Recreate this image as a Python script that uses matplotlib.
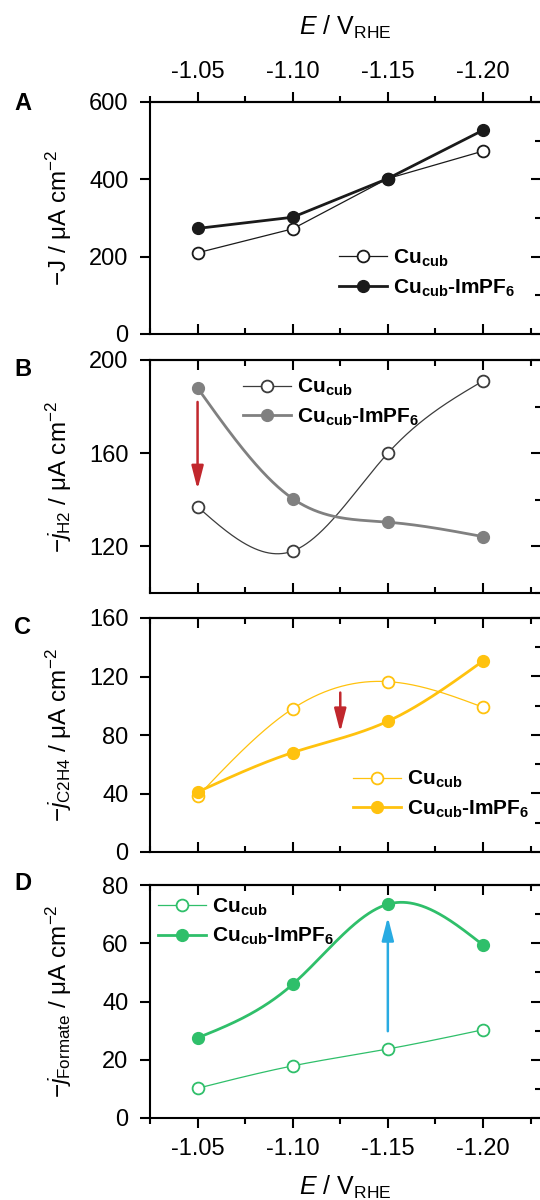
import numpy as np
import matplotlib
matplotlib.use('Agg')
import matplotlib.pyplot as plt
from matplotlib.ticker import FixedLocator, FormatStrFormatter, MultipleLocator

plt.rcParams['font.family'] = ['Liberation Sans', 'DejaVu Sans']
plt.rcParams['mathtext.fontset'] = 'custom'
plt.rcParams['mathtext.rm'] = 'Liberation Sans'
plt.rcParams['mathtext.it'] = 'Liberation Sans:italic'
plt.rcParams['mathtext.bf'] = 'Liberation Sans:bold'
plt.rcParams['axes.unicode_minus'] = False

# potentials (V vs RHE)
potential = [-1.05, -1.10, -1.15, -1.20]

# total current density
total_cub = [210, 272, 402, 473]
total_im = [273, 302, 402, 527]
# H2 partial current density
h2_cub = [137, 118, 160, 191]
h2_im = [188, 140.5, 130.4, 124.2]
# C2H4 partial current density
c2h4_cub = [38, 98, 116.5, 99]
c2h4_im = [41, 68, 89.4, 130.6]
# formate partial current density
formate_cub = [10.2, 17.9, 23.7, 30.3]
formate_im = [27.5, 45.9, 73.4, 59.4]

labels = [r'Cu$_{\mathbf{cub}}$', r'Cu$_{\mathbf{cub}}$-ImPF$_{\mathbf{6}}$']


def natural_spline(x, y, n=200):
    # natural cubic spline through the measured points
    x = np.asarray(x, float)
    y = np.asarray(y, float)
    m = len(x)
    h = np.diff(x)
    A = np.zeros((m, m))
    b = np.zeros(m)
    A[0, 0] = A[-1, -1] = 1
    for i in range(1, m - 1):
        A[i, i - 1] = h[i - 1]
        A[i, i] = 2 * (h[i - 1] + h[i])
        A[i, i + 1] = h[i]
        b[i] = 3 * ((y[i + 1] - y[i]) / h[i] - (y[i] - y[i - 1]) / h[i - 1])
    c = np.linalg.solve(A, b)
    xs, ys = [], []
    for i in range(m - 1):
        t = np.linspace(0, h[i], n)
        bi = (y[i + 1] - y[i]) / h[i] - h[i] * (2 * c[i] + c[i + 1]) / 3
        di = (c[i + 1] - c[i]) / (3 * h[i])
        xs.append(x[i] + t)
        ys.append(y[i] + bi * t + c[i] * t ** 2 + di * t ** 3)
    return np.concatenate(xs), np.concatenate(ys)


fig = plt.figure(figsize=(5.4, 12), dpi=100)

left, width = 150 / 540, 391 / 540
panels = [
    # (top px, bottom px)
    (102, 334),
    (360, 593),
    (618, 852),
    (885, 1118),
]
axes = []
for top, bot in panels:
    ax = fig.add_axes([left, 1 - bot / 1200, width, (bot - top) / 1200])
    axes.append(ax)

xlim = (-1.025, -1.2305)
minor_x = [-1.025, -1.075, -1.125, -1.175, -1.225]
tick_size = 17


def style_axis(ax, ylim, ymaj, ymin, ylabel, top_labels=False, bottom_labels=False):
    ax.set_xlim(*xlim)
    ax.set_ylim(*ylim)
    for s in ax.spines.values():
        s.set_linewidth(1.5)
    ax.xaxis.set_major_locator(FixedLocator(potential))
    ax.xaxis.set_minor_locator(FixedLocator(minor_x))
    ax.xaxis.set_major_formatter(FormatStrFormatter('%.2f'))
    ax.yaxis.set_major_locator(MultipleLocator(ymaj))
    ax.yaxis.set_minor_locator(MultipleLocator(ymin))
    ax.tick_params(axis='both', which='major', labelsize=tick_size, width=1.5, length=7.5)
    ax.tick_params(axis='both', which='minor', width=1.5, length=4)
    ax.tick_params(axis='x', which='both', top=False,
                   direction='out' if bottom_labels else 'in',
                   labelbottom=bottom_labels, pad=7)
    ax.tick_params(axis='y', which='both', right=False, direction='out', pad=8)
    ax.tick_params(axis='y', which='minor', left=False)

    # inward ticks on right side
    sy = ax.secondary_yaxis('right')
    sy.yaxis.set_major_locator(MultipleLocator(ymaj))
    sy.yaxis.set_minor_locator(MultipleLocator(ymin))
    sy.tick_params(which='both', direction='in', labelright=False, width=1.5)
    sy.tick_params(which='major', length=7.5)
    sy.tick_params(which='minor', length=4)
    sy.spines['right'].set_linewidth(1.5)

    # top ticks
    sx = ax.secondary_xaxis('top')
    sx.xaxis.set_major_locator(FixedLocator(potential))
    sx.xaxis.set_minor_locator(FixedLocator(minor_x))
    sx.xaxis.set_major_formatter(FormatStrFormatter('%.2f'))
    sx.tick_params(which='both', direction='out' if top_labels else 'in',
                   labeltop=top_labels, width=1.5, labelsize=tick_size, pad=6)
    sx.tick_params(which='major', length=7.5)
    sx.tick_params(which='minor', length=4)
    sx.spines['top'].set_linewidth(1.5)
    if top_labels:
        sx.set_xlabel(r'$\mathit{E}$ / V$_{\mathrm{RHE}}$', fontsize=18, labelpad=19)
    if bottom_labels:
        ax.set_xlabel(r'$\mathit{E}$ / V$_{\mathrm{RHE}}$', fontsize=18, labelpad=10)

    ax.set_ylabel(ylabel, fontsize=17.5)
    ax.yaxis.set_label_coords(-0.195, 0.5)


def draw_pair(ax, y_open, y_fill, c_open, c_fill, smooth=True):
    for y, col, filled in [(y_open, c_open, False), (y_fill, c_fill, True)]:
        lw = 2.0 if filled else 0.9
        if smooth:
            xs, ys = natural_spline(potential, y)
        else:
            xs, ys = potential, y
        ax.plot(xs, ys, color=col, lw=lw, zorder=2)
        ax.plot(potential, y, ls='none', marker='o', ms=8.5,
                mfc=col if filled else 'white', mec=col,
                mew=1.0 if filled else 1.3, zorder=3)
    h_open = plt.Line2D([], [], color=c_open, lw=0.9, marker='o', ms=8.5,
                        mfc='white', mec=c_open, mew=1.3)
    h_fill = plt.Line2D([], [], color=c_fill, lw=2.0, marker='o', ms=8.5,
                        mfc=c_fill, mec=c_fill)
    return [h_open, h_fill]


def add_legend(ax, handles, x, y):
    ax.legend(handles, labels, loc='center left', bbox_to_anchor=(x, y),
              frameon=False, borderpad=0, borderaxespad=0, handlelength=2.3,
              handletextpad=0.3, labelspacing=0.4,
              prop={'size': 15, 'weight': 'bold'})


def add_arrow(ax, x, y0, y1, color):
    ax.annotate('', xy=(x, y1), xytext=(x, y0),
                arrowprops=dict(arrowstyle='-|>,head_length=1.4,head_width=0.36',
                                mutation_scale=10, color=color, lw=1.8,
                                shrinkA=0, shrinkB=0), zorder=4)


black = '#1a1a1a'
dgray = '#3c3c3c'
gray = '#808080'
yellow = '#FFC20E'
green = '#2FBF6A'
red = '#C1272D'
blue = '#29ABE2'

# A: total current
ax = axes[0]
style_axis(ax, (0, 600), 200, 100, '−J / μA cm$^{-2}$', top_labels=True)
h = draw_pair(ax, total_cub, total_im, black, black, smooth=False)
add_legend(ax, h, 0.483, 0.262)

# B: H2
ax = axes[1]
style_axis(ax, (100, 200), 40, 20, r'$-\mathit{j}_{\mathrm{H2}}$ / μA cm$^{-2}$')
h = draw_pair(ax, h2_cub, h2_im, dgray, gray)
add_legend(ax, h, 0.238, 0.818)
add_arrow(ax, -1.05, 182, 144.5, red)

# C: C2H4
ax = axes[2]
style_axis(ax, (0, 160), 40, 20, r'$-\mathit{j}_{\mathrm{C2H4}}$ / μA cm$^{-2}$')
h = draw_pair(ax, c2h4_cub, c2h4_im, yellow, yellow)
add_legend(ax, h, 0.519, 0.246)
add_arrow(ax, -1.125, 109, 82, red)

# D: formate
ax = axes[3]
style_axis(ax, (0, 80), 20, 10, r'$-\mathit{j}_{\mathrm{Formate}}$ / μA cm$^{-2}$',
           bottom_labels=True)
h = draw_pair(ax, formate_cub, formate_im, green, green)
add_legend(ax, h, 0.02, 0.842)
add_arrow(ax, -1.15, 29.8, 69, blue)

for letter, yc in zip('ABCD', [104, 370, 627, 884]):
    fig.text(14 / 540, 1 - yc / 1200, letter, fontsize=17, weight='bold',
             ha='left', va='center')

fig.savefig('out.png', dpi=100)
